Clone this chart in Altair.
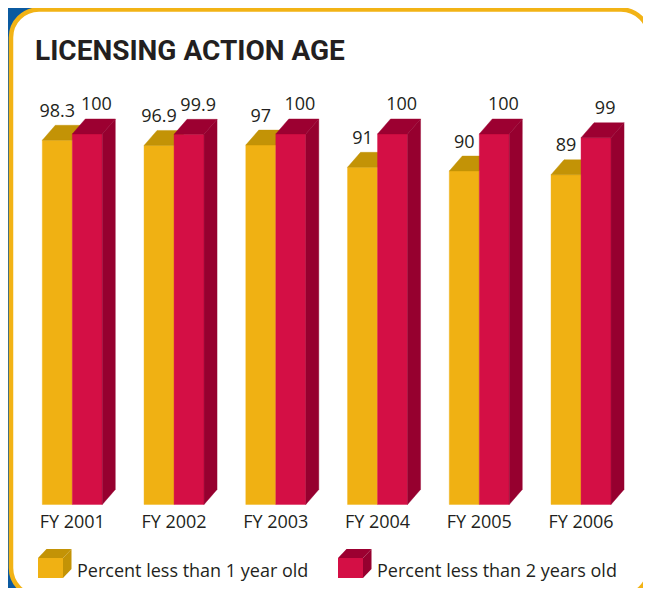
import altair as alt
import pandas as pd

# ---------------- data ----------------
years = ["FY 2001", "FY 2002", "FY 2003", "FY 2004", "FY 2005", "FY 2006"]
under_1yr = [98.3, 96.9, 97, 91, 90, 89]
under_2yr = [100, 99.9, 100, 100, 100, 99]
series_names = ["Percent less than 1 year old", "Percent less than 2 years old"]
title_text = "LICENSING ACTION AGE"

# ---------------- styles ----------------
W, H = 635, 580
X_DOM = [-0.632, 5.609]
Y_DOM = [-22.54, 134.0]
BW = 0.2949     # bar front width (group units)
DX = 0.1278     # depth x (group units)
DY = 4.05       # depth y (value units)
TXT = "#231f20"
FONT = "Open Sans"
YEL = {"front": "#F0B113", "top": "#C39306", "side": "#C39306"}
RED = {"front": "#D40F45", "top": "#9C0031", "side": "#96002F"}
BLUE = "#0B5AA0"
ORANGE = "#F2B315"

xs = alt.Scale(domain=X_DOM, nice=False, zero=False)
ys = alt.Scale(domain=Y_DOM, nice=False, zero=False)
one = pd.DataFrame({"k": [0]})


def bar_layers(values, offset, col, with_side):
    fr, tp, sd = [], [], []
    for i, v in enumerate(values):
        x0 = i + offset
        x1 = x0 + BW
        fr.append({"bar": i, "x0": x0, "x1": x1, "base": 0, "v": v})
        tp.append({"bar": i, "y": v, "xl": x0, "xr": x1})
        tp.append({"bar": i, "y": v + DY, "xl": x0 + DX, "xr": x1 + DX})
        sd.append({"bar": i, "x": x1, "yt": v, "yb": 0})
        sd.append({"bar": i, "x": x1 + DX, "yt": v + DY, "yb": DY})
    layers = [
        alt.Chart(pd.DataFrame(fr)).mark_rect(color=col["front"], opacity=1,
                                               stroke=col["front"], strokeWidth=0.4).encode(
            x=alt.X("x0:Q", scale=xs, axis=None), x2="x1:Q",
            y=alt.Y("base:Q", scale=ys, axis=None), y2="v:Q"),
        alt.Chart(pd.DataFrame(tp)).mark_area(orient="horizontal", color=col["top"], opacity=1,
                                              stroke=col["top"], strokeWidth=0.4).encode(
            y=alt.Y("y:Q", scale=ys, axis=None),
            x=alt.X("xl:Q", scale=xs, axis=None, stack=None), x2="xr:Q",
            detail="bar:N"),
    ]
    if with_side:
        layers.append(
            alt.Chart(pd.DataFrame(sd)).mark_area(orient="vertical", color=col["side"], opacity=1,
                                                  stroke=col["side"], strokeWidth=0.4).encode(
                x=alt.X("x:Q", scale=xs, axis=None),
                y=alt.Y("yt:Q", scale=ys, axis=None, stack=None), y2="yb:Q",
                detail="bar:N"))
    return layers


yellow = bar_layers(under_1yr, -BW, YEL, False)
red = bar_layers(under_2yr, 0.0, RED, True)

lab_rows = []
for i, (a, b) in enumerate(zip(under_1yr, under_2yr)):
    lab_rows.append({"x": i - BW / 2, "y": a + DY, "t": f"{a:g}"})
    lab_rows.append({"x": i + BW / 2 + DX * 0.7, "y": b + DY, "t": f"{b:g}"})
labels = alt.Chart(pd.DataFrame(lab_rows)).mark_text(
    font=FONT, fontSize=18, color=TXT, align="center", baseline="alphabetic", dy=-8.5
).encode(x=alt.X("x:Q", scale=xs, axis=None), y=alt.Y("y:Q", scale=ys, axis=None), text="t:N")

fy = alt.Chart(pd.DataFrame({"x": list(range(len(years))), "t": years})).mark_text(
    font=FONT, fontSize=18, color=TXT, align="center", baseline="alphabetic"
).encode(x=alt.X("x:Q", scale=xs, axis=None), y=alt.value(520), text="t:N")

# ---------------- background / frame ----------------
blue = alt.Chart(one).mark_rect(color=BLUE, opacity=1).encode(
    x=alt.value(0), x2=alt.value(150), y=alt.value(0), y2=alt.value(H))
box = alt.Chart(one).mark_rect(fill="white", stroke=ORANGE, strokeWidth=4.5,
                               cornerRadius=28, opacity=1).encode(
    x=alt.value(3), x2=alt.value(641), y=alt.value(1.5), y2=alt.value(588))
title = alt.Chart(one).mark_text(
    text=title_text, font="Roboto",
    fontSize=28, fontWeight="bold", color=TXT, align="left", baseline="alphabetic"
).encode(x=alt.value(27), y=alt.value(52))

# ---------------- legend (3D cube glyphs) ----------------
FRONT_P = "M0,0 L25,0 L25,-20 L0,-20 Z"
TOP_P = "M0,-20 L25,-20 L33.5,-29 L8.5,-29 Z"
SIDE_P = "M25,0 L33.5,-9 L33.5,-29 L25,-20 Z"
legend = []
for k, (name, col) in enumerate(zip(series_names, [YEL, RED])):
    lx = 30 + 300 * k
    for path, face in [(FRONT_P, "front"), (TOP_P, "top"), (SIDE_P, "side")]:
        legend.append(alt.Chart(one).mark_point(
            shape=path, size=4, filled=True, fill=col[face], strokeWidth=0, opacity=1
        ).encode(x=alt.value(lx), y=alt.value(570)))
    legend.append(alt.Chart(one).mark_text(
        text=name, font=FONT, fontSize=18, color=TXT, align="left", baseline="alphabetic"
    ).encode(x=alt.value(lx + 39), y=alt.value(568.5)))

chart = alt.layer(blue, box, title, *yellow, *red, labels, fy, *legend).properties(
    width=W, height=H, padding=0, background="white",
    autosize=alt.AutoSizeParams(type="none"),
).configure_view(stroke=None)

chart.save("out.html", embed_options={"renderer": "svg", "actions": False})
